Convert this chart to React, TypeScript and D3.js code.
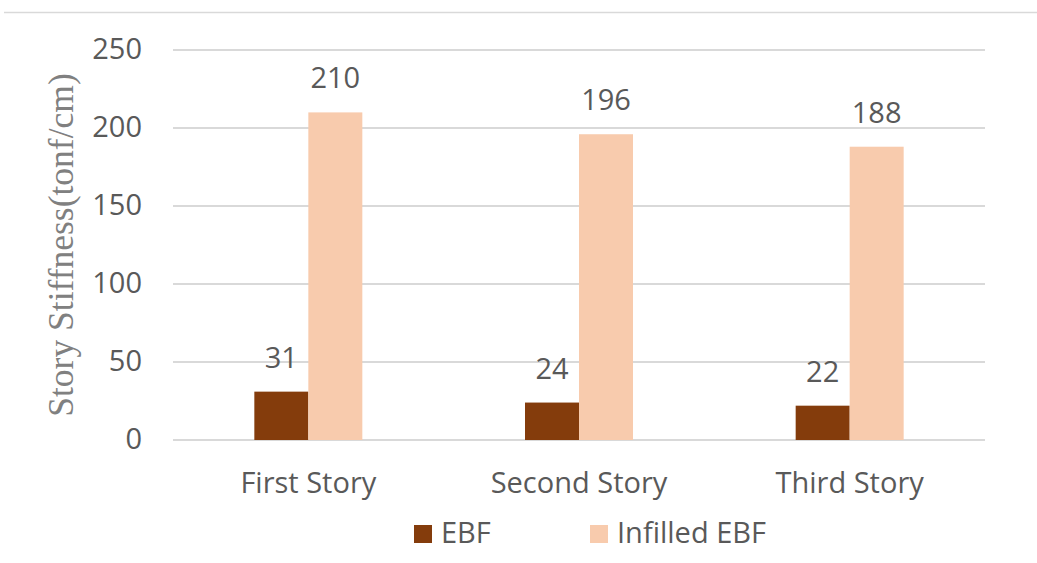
import React from "react";
import * as d3 from "d3";

const categories = ["First Story", "Second Story", "Third Story"];
const seriesNames = ["EBF", "Infilled EBF"];
const ebfValues = [31, 24, 22];
const infilledValues = [210, 196, 188];
const yTicks = [0, 50, 100, 150, 200, 250];

const colors = ["#843C0C", "#F8CBAD"];
const W = 1037, H = 563;
const left = 173, right = 985, top = 50, bottom = 440;

export default function App() {
  const x = d3.scaleBand<string>().domain(categories).range([left, right]).paddingInner(0).paddingOuter(0);
  const y = d3.scaleLinear().domain([0, 250]).range([bottom, top]);
  const barW = 54;
  const series = [ebfValues, infilledValues];
  const font = "'Open Sans', sans-serif";
  const fs = 29;
  return (
    <svg width={W} height={H} style={{ position: "absolute", left: 0, top: 0, background: "#fff" }}>
      <line x1={4} x2={W} y1={12.5} y2={12.5} stroke="#d9d9d9" strokeWidth={1.5} />
      {yTicks.map((t) => (
        <g key={t}>
          <line x1={left} x2={right} y1={y(t)} y2={y(t)} stroke="#d9d9d9" strokeWidth={2} />
          <text x={142} y={y(t) + 9} textAnchor="end" fontSize={fs} fill="#595959" fontFamily={font}>{t}</text>
        </g>
      ))}
      {categories.map((c, i) => {
        const cx = (x(c) as number) + x.bandwidth() / 2;
        return (
          <g key={c}>
            {series.map((vals, s) => {
              const bx = cx - barW + s * barW;
              return (
                <g key={s}>
                  <rect x={bx} y={y(vals[i])} width={barW} height={bottom - y(vals[i])} fill={colors[s]} />
                  <text x={bx + barW / 2} y={y(vals[i]) - 24} textAnchor="middle" fontSize={fs} fill="#595959" fontFamily={font}>{vals[i]}</text>
                </g>
              );
            })}
            <text x={cx} y={493} textAnchor="middle" fontSize={fs} fill="#595959" fontFamily={font}>{c}</text>
          </g>
        );
      })}
      <text transform={`translate(73,245) rotate(-90)`} textAnchor="middle" fontSize={35.5} fill="#808080" fontFamily="'Liberation Serif', 'DejaVu Serif', serif">Story Stiffness(tonf/cm)</text>
      {seriesNames.map((n, s) => (
        <g key={n} transform={`translate(${414 + s * 176},525)`}>
          <rect x={0} y={0} width={18} height={18} fill={colors[s]} />
          <text x={27} y={18} fontSize={fs} fill="#595959" fontFamily={font}>{n}</text>
        </g>
      ))}
    </svg>
  );
}
